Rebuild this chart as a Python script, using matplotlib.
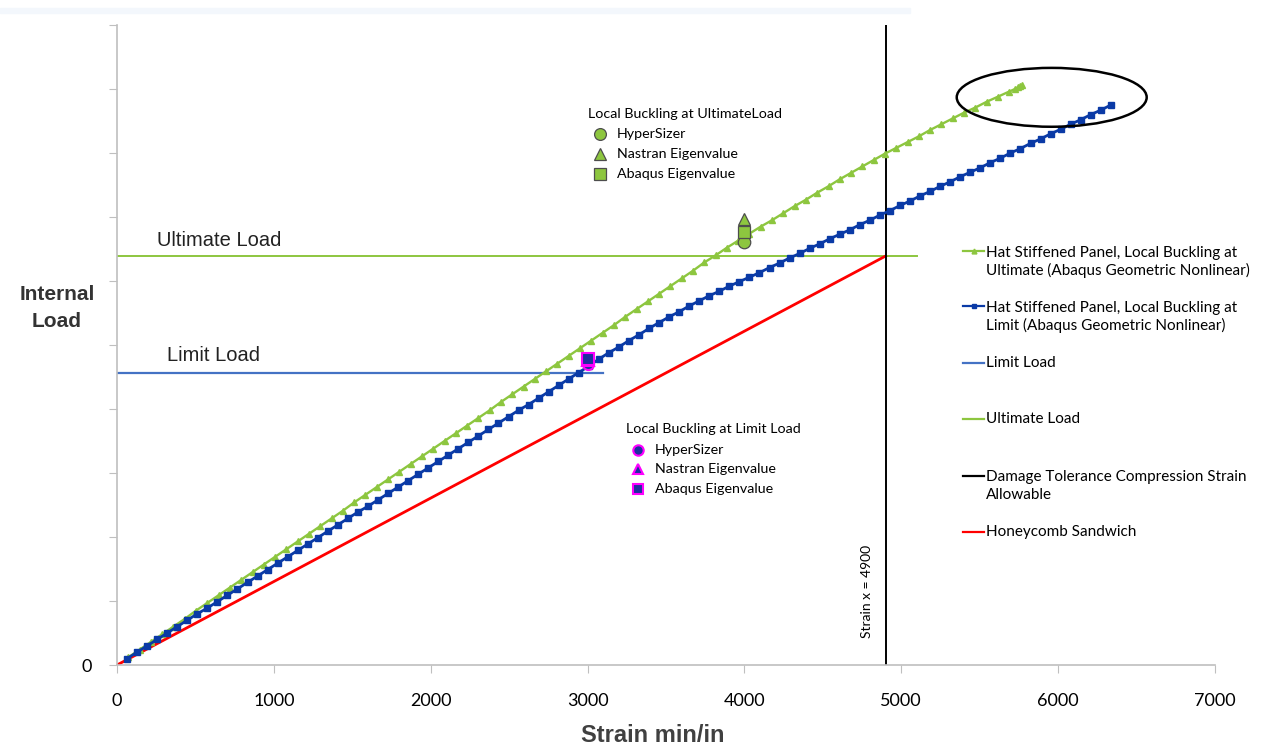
import matplotlib
matplotlib.use("Agg")
import matplotlib.pyplot as plt
from matplotlib.lines import Line2D
from matplotlib.patches import Ellipse, Rectangle

# ---- data ----
# Hat stiffened panel, local buckling at limit (blue squares)
limit_strain = [64, 128, 192, 256, 320, 384, 448, 512, 576, 640,
                704, 768, 832, 896, 960, 1024, 1088, 1152, 1216, 1280,
                1344, 1408, 1472, 1536, 1600, 1664, 1728, 1792, 1856, 1920,
                1984, 2048, 2112, 2176, 2240, 2304, 2368, 2432, 2496, 2560,
                2624, 2688, 2752, 2816, 2880, 2944, 3008, 3072, 3136, 3200,
                3264, 3328, 3392, 3456, 3520, 3584, 3648, 3712, 3776, 3840,
                3904, 3968, 4032, 4096, 4160, 4224, 4288, 4352, 4416, 4480,
                4544, 4608, 4672, 4736, 4800, 4864, 4928, 4992, 5056, 5120,
                5184, 5248, 5312, 5376, 5440, 5504, 5568, 5632, 5696, 5760,
                5824, 5888, 5952, 6016, 6080, 6144, 6208, 6272, 6336]
limit_load = [0.10, 0.20, 0.30, 0.40, 0.50, 0.60, 0.70, 0.80, 0.89, 0.99,
              1.09, 1.19, 1.29, 1.39, 1.49, 1.59, 1.69, 1.79, 1.89, 1.99,
              2.09, 2.19, 2.29, 2.39, 2.48, 2.58, 2.68, 2.78, 2.88, 2.98,
              3.08, 3.18, 3.28, 3.38, 3.48, 3.58, 3.68, 3.78, 3.88, 3.98,
              4.07, 4.17, 4.27, 4.37, 4.47, 4.57, 4.67, 4.78, 4.88, 4.97,
              5.07, 5.16, 5.26, 5.35, 5.44, 5.52, 5.61, 5.69, 5.77, 5.84,
              5.92, 5.99, 6.06, 6.13, 6.21, 6.28, 6.36, 6.43, 6.51, 6.58,
              6.66, 6.73, 6.80, 6.88, 6.95, 7.03, 7.10, 7.18, 7.25, 7.33,
              7.40, 7.48, 7.55, 7.63, 7.70, 7.77, 7.85, 7.92, 8.00, 8.07,
              8.15, 8.22, 8.30, 8.37, 8.45, 8.52, 8.60, 8.67, 8.75]

# Hat stiffened panel, local buckling at ultimate (green triangles)
ult_strain = [72, 144, 216, 288, 360, 432, 504, 576, 648, 720,
              792, 864, 936, 1008, 1080, 1152, 1224, 1296, 1368, 1440,
              1512, 1584, 1656, 1728, 1800, 1872, 1944, 2016, 2088, 2160,
              2232, 2304, 2376, 2448, 2520, 2592, 2664, 2736, 2808, 2880,
              2952, 3024, 3096, 3168, 3240, 3312, 3384, 3456, 3528, 3600,
              3672, 3744, 3816, 3888, 3960, 4032, 4104, 4176, 4248, 4320,
              4392, 4464, 4536, 4608, 4680, 4752, 4824, 4896, 4968, 5040,
              5112, 5184, 5256, 5328, 5400, 5472, 5544, 5616, 5688, 5725,
              5745, 5760, 5772]
ult_load = [0.12, 0.24, 0.36, 0.48, 0.60, 0.72, 0.85, 0.97, 1.09, 1.21,
            1.33, 1.45, 1.57, 1.69, 1.81, 1.93, 2.05, 2.17, 2.29, 2.41,
            2.54, 2.66, 2.78, 2.90, 3.02, 3.14, 3.26, 3.38, 3.50, 3.62,
            3.74, 3.86, 3.98, 4.11, 4.23, 4.35, 4.47, 4.59, 4.71, 4.83,
            4.95, 5.07, 5.19, 5.31, 5.44, 5.56, 5.68, 5.80, 5.92, 6.04,
            6.16, 6.29, 6.40, 6.52, 6.63, 6.74, 6.85, 6.95, 7.06, 7.17,
            7.27, 7.38, 7.48, 7.59, 7.69, 7.79, 7.89, 7.99, 8.08, 8.17,
            8.26, 8.36, 8.45, 8.54, 8.63, 8.71, 8.80, 8.88, 8.96, 9.00,
            9.03, 9.05, 9.06]

# Honeycomb sandwich (straight line)
honeycomb_strain = [0, 4900]
honeycomb_load = [0, 6.39]

limit_level = 4.56
limit_extent = [0, 3100]
ultimate_level = 6.39
ultimate_extent = [0, 5100]
strain_allowable = 4900

# buckling predictions: HyperSizer, Nastran, Abaqus
buck_labels = ["HyperSizer", "Nastran Eigenvalue", "Abaqus Eigenvalue"]
buck_markers = ["o", "^", "s"]
limit_buck_strain = [3000, 3000, 3000]
limit_buck_load = [4.70, 4.76, 4.78]
ult_buck_strain = [4000, 4000, 4000]
ult_buck_load = [6.61, 6.97, 6.77]

x_ticks = [0, 1000, 2000, 3000, 4000, 5000, 6000, 7000]
y_ticks = [0, 1, 2, 3, 4, 5, 6, 7, 8, 9, 10]

GREEN = "#8DC63F"
BLUE = "#0A3AA6"
LIMIT_BLUE = "#4472C4"
W, H = 1268, 747


def fx(px):
    return px / W


def fy(py):
    return 1 - py / H


CAL = ["Lato", "DejaVu Sans"]
ARI = ["Liberation Sans", "DejaVu Sans"]

fig = plt.figure(figsize=(W / 100, H / 100), dpi=100)
fig.patches.append(Rectangle((0, fy(13)), fx(910), 5 / H, transform=fig.transFigure,
                             color="#F3F7FC", zorder=0))
ax = fig.add_axes([fx(117), fy(665), fx(1215) - fx(117), fy(25) - fy(665)])

ax.plot(ultimate_extent, [ultimate_level] * 2, color=GREEN, lw=1.4, zorder=2)
ax.plot(limit_extent, [limit_level] * 2, color=LIMIT_BLUE, lw=1.6, zorder=2)
ax.plot(honeycomb_strain, honeycomb_load, color="#FF0000", lw=2.0, zorder=2)
ax.axvline(strain_allowable, color="black", lw=1.4, zorder=2)

ax.plot(ult_strain, ult_load, color=GREEN, lw=1.7, marker="^", ms=4,
        mec=GREEN, mfc=GREEN, zorder=3)
ax.plot(limit_strain, limit_load, color=BLUE, lw=2.0, marker="s", ms=3.8,
        mec=BLUE, mfc=BLUE, zorder=4)

for m, xs, ys in zip(buck_markers, ult_buck_strain, ult_buck_load):
    ax.plot(xs, ys, marker=m, ms=9, mfc=GREEN, mec="#4D4D4D", mew=0.9,
            ls="none", zorder=5)
for m, xs, ys in zip(buck_markers, limit_buck_strain, limit_buck_load):
    ax.plot(xs, ys, marker=m, ms=8, mfc="#1F2F9F", mec="#FF00FF", mew=1.5,
            ls="none", zorder=5)

ax.add_patch(Ellipse((5959, 8.87), 1211, 0.92, fill=False, ec="black", lw=1.8,
                     zorder=6))

ax.text(258, ultimate_level + 0.1, "Ultimate Load", fontsize=14.5,
        family=ARI, color="#222222", va="bottom")
ax.text(318, limit_level + 0.12, "Limit Load", fontsize=14.5, family=ARI,
        color="#222222", va="bottom")
ax.text(4900 - 80, 1.15, "Strain x = 4900", rotation=90, fontsize=10,
        family=CAL, ha="right", va="center")

ax.set_xlim(0, 7000)
ax.set_ylim(0, 10)
ax.set_xticks(x_ticks)
ax.set_xticklabels([str(t) for t in x_ticks], family=CAL, fontsize=13)
ax.set_yticks(y_ticks)
ax.set_yticklabels(["0"] + [""] * 10, family=CAL, fontsize=13)
ax.tick_params(axis="x", length=6, color="#BFBFBF", pad=14)
ax.tick_params(axis="y", length=6, color="#BFBFBF", pad=12)
for s in ["top", "right"]:
    ax.spines[s].set_visible(False)
for s in ["left", "bottom"]:
    ax.spines[s].set_color("#BFBFBF")
    ax.spines[s].set_linewidth(1.2)

fig.text(fx(57), fy(308), "Internal\nLoad", ha="center", va="center",
         fontsize=15, fontweight="bold", family=ARI, color="#333333",
         linespacing=1.5)
fig.text(fx(653), fy(735), "Strain min/in", ha="center", va="center",
         fontsize=17, fontweight="bold", family=ARI, color="#404040")

# buckling prediction keys
def buck_key(title, tx, ty, mx, rows_y, face, edge, mew, size):
    fig.text(fx(tx), fy(ty), title, fontsize=10.3, family=CAL, va="center")
    for m, lab, ry in zip(buck_markers, buck_labels, rows_y):
        fig.add_artist(Line2D([fx(mx)], [fy(ry)], marker=m, ms=size, mfc=face,
                              mec=edge, mew=mew, ls="none",
                              transform=fig.transFigure))
        fig.text(fx(mx + 17), fy(ry), lab, fontsize=10.3, family=CAL, va="center")


buck_key("Local Buckling at UltimateLoad", 588, 114, 600, [134, 154, 174],
         GREEN, "#4D4D4D", 0.9, 8.5)
buck_key("Local Buckling at Limit Load", 626, 429, 638, [450, 469, 489],
         "#1F2F9F", "#FF00FF", 1.5, 7.5)

# series key on the right
legend_rows = [
    ("Hat Stiffened Panel, Local Buckling at\nUltimate (Abaqus Geometric Nonlinear)",
     GREEN, "^", 251, 262),
    ("Hat Stiffened Panel, Local Buckling at\nLimit (Abaqus Geometric Nonlinear)",
     BLUE, "s", 306, 317),
    ("Limit Load", LIMIT_BLUE, None, 363, 363),
    ("Ultimate Load", GREEN, None, 419, 419),
    ("Damage Tolerance Compression Strain\nAllowable", "black", None, 476, 486),
    ("Honeycomb Sandwich", "#FF0000", None, 532, 532),
]
for label, col, mk, line_y, text_y in legend_rows:
    fig.add_artist(Line2D([fx(963), fx(984)], [fy(line_y), fy(line_y)], color=col,
                          lw=1.6, transform=fig.transFigure))
    if mk:
        fig.add_artist(Line2D([fx(973.5)], [fy(line_y)], marker=mk, ms=3.5, color=col,
                              transform=fig.transFigure))
    fig.text(fx(986), fy(text_y), label, fontsize=11, family=CAL, va="center",
             linespacing=1.3)

fig.savefig("out.png", dpi=100)
